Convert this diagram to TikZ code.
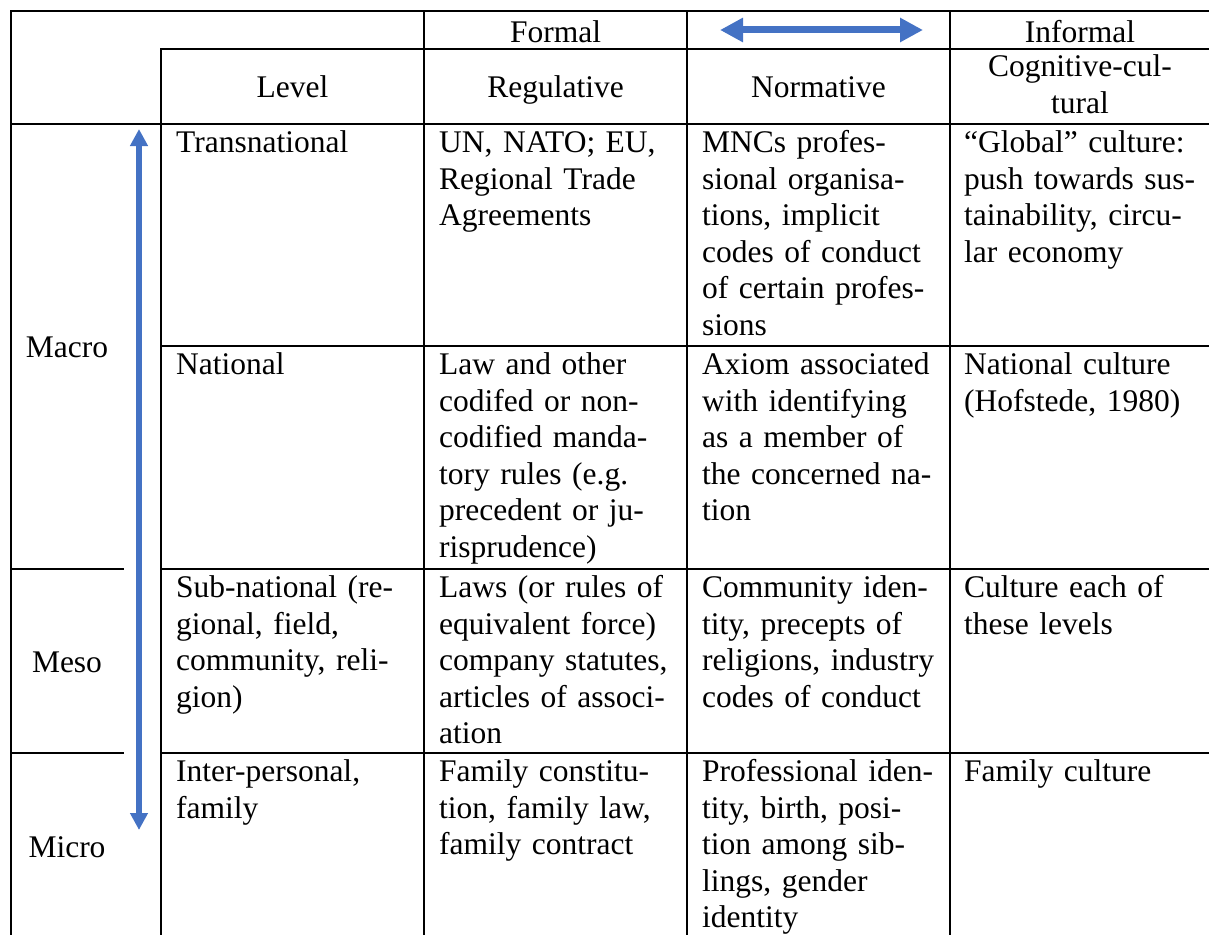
\documentclass[tikz,border=0pt]{standalone}
\usepackage{fontspec}
\setmainfont{Liberation Serif}
\usetikzlibrary{arrows.meta}
\definecolor{officeblue}{HTML}{4472C4}
\newcommand\bodyfont{\fontsize{31.5}{36.5}\selectfont}
\tikzset{
  vtip/.tip={Triangle[length=17pt,width=17pt]},
  htip/.tip={Triangle[length=23pt,width=23pt]}
}

\begin{document}
\begin{tikzpicture}[x=1pt,y=-1pt,
  rule/.style={line width=2.6pt, line cap=rect},
  cell/.style={anchor=north west, inner sep=0pt, text width=250pt, align=left,
               font=\bodyfont, execute at begin node=\strut},
  head/.style={anchor=base, inner sep=0pt, font=\bodyfont},
  twohead/.style={anchor=north, inner sep=0pt, align=center,
               font=\bodyfont, execute at begin node=\strut},
  scale arrow/.style={draw=officeblue, line width=#1}]
\useasboundingbox (0,0) rectangle (1209,934);
\clip (0,0) rectangle (1209,934);

% table rules
\draw[rule] (1215,11) -- (11,11) -- (11,945);
\draw[rule] (161,49) -- (1215,49);
\draw[rule] (11,124) -- (1215,124);
\draw[rule] (161,346) -- (1215,346);
\draw[rule] (11,569) -- (123,569) (161,569) -- (1215,569);
\draw[rule] (11,753) -- (123,753) (161,753) -- (1215,753);
\draw[rule] (161,49) -- (161,945);
\draw[rule] (424,11) -- (424,945);
\draw[rule] (687,11) -- (687,945);
\draw[rule] (950,11) -- (950,945);

% header rows
\node[head] (formal) at (555.5,42) {Formal};
\node[head] (informal) at (1080,42) {Informal};
\node[head] (level) at (292.5,97) {Level};
\node[head] (regulative) at (555.5,97) {Regulative};
\node[head] (normative) at (818.5,97) {Normative};
\node[twohead] (cognitive) at (1080,54.5) {Cognitive-cul-\\tural};

% level groups
\node[head] (macro) at (67,357) {Macro};
\node[head] (meso) at (67,672) {Meso};
\node[head] (micro) at (67,857) {Micro};

% transnational row
\node[cell] (l1) at (176,127) {Transnational};
\node[cell] (r1) at (439,127) {UN, NATO; EU,\\Regional Trade\\Agreements};
\node[cell] (n1) at (702,127) {MNCs profes-\\sional organisa-\\tions, implicit\\codes of conduct\\of certain profes-\\sions};
\node[cell] (c1) at (964,127) {“Global” culture:\\push towards sus-\\tainability, circu-\\lar economy};

% national row
\node[cell] (l2) at (176,349) {National};
\node[cell] (r2) at (439,349) {Law and other\\codifed or non-\\codified manda-\\tory rules (e.g.\\precedent or ju-\\risprudence)};
\node[cell] (n2) at (702,349) {Axiom associated\\with identifying\\as a member of\\the concerned na-\\tion};
\node[cell] (c2) at (964,349) {National culture\\(Hofstede, 1980)};

% sub-national row
\node[cell] (l3) at (176,572) {Sub-national (re-\\gional, field,\\community, reli-\\gion)};
\node[cell] (r3) at (439,572) {Laws (or rules of\\equivalent force)\\company statutes,\\articles of associ-\\ation};
\node[cell] (n3) at (702,572) {Community iden-\\tity, precepts of\\religions, industry\\codes of conduct};
\node[cell] (c3) at (964,572) {Culture each of\\these levels};

% inter-personal row
\node[cell] (l4) at (176,756) {Inter-personal,\\family};
\node[cell] (r4) at (439,756) {Family constitu-\\tion, family law,\\family contract};
\node[cell] (n4) at (702,756) {Professional iden-\\tity, birth, posi-\\tion among sib-\\lings, gender\\identity};
\node[cell] (c4) at (964,756) {Family culture};

% double-headed arrows
\coordinate (vtop) at (139,129);
\coordinate (vbot) at (139,830);
\draw[scale arrow=6pt, vtip-vtip] (vtop) -- (vbot);
\coordinate (hleft) at (720,30);
\coordinate (hright) at (923,30);
\draw[scale arrow=7pt, htip-htip] (hleft) -- (hright);
\end{tikzpicture}
\end{document}
